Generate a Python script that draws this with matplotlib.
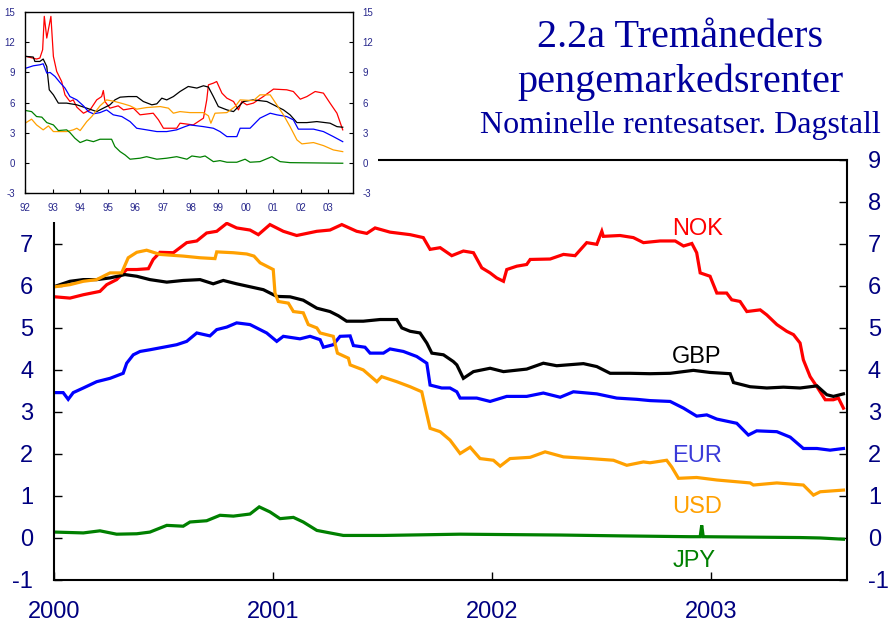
import numpy as np
import matplotlib
matplotlib.use("Agg")
import matplotlib.pyplot as plt
from matplotlib.patches import Rectangle

plt.rcParams["font.family"] = ["Liberation Sans", "DejaVu Sans"]
plt.rcParams["axes.unicode_minus"] = False

# main panel: years after 2000.0, values in percent
nok_t = [0.005, 0.073, 0.134, 0.210, 0.241, 0.286, 0.332, 0.378, 0.431, 0.453,
         0.484, 0.545, 0.606, 0.652, 0.697, 0.743, 0.789, 0.834, 0.895, 0.933,
         0.986, 1.047, 1.108, 1.200, 1.260, 1.314, 1.382, 1.428, 1.466, 1.534,
         1.626, 1.686, 1.717, 1.763, 1.816, 1.869, 1.915, 1.953, 1.991, 2.021,
         2.052, 2.067, 2.113, 2.158, 2.174, 2.265, 2.326, 2.379, 2.432, 2.478,
         2.501, 2.508, 2.584, 2.645, 2.691, 2.767, 2.836, 2.874, 2.912, 2.934,
         2.950, 2.995, 3.026, 3.071, 3.094, 3.132, 3.163, 3.224, 3.254, 3.300,
         3.345, 3.376, 3.406, 3.421, 3.452, 3.483, 3.521, 3.558, 3.581, 3.604]
nok_v = [5.74, 5.71, 5.79, 5.87, 6.03, 6.15, 6.39, 6.39, 6.41, 6.63,
         6.80, 6.79, 7.03, 7.07, 7.26, 7.30, 7.49, 7.38, 7.33, 7.22,
         7.46, 7.30, 7.20, 7.30, 7.33, 7.46, 7.30, 7.25, 7.38, 7.28,
         7.22, 7.15, 6.87, 6.91, 6.72, 6.83, 6.79, 6.43, 6.31, 6.19,
         6.11, 6.39, 6.47, 6.51, 6.63, 6.64, 6.75, 6.72, 7.03, 6.99,
         7.30, 7.18, 7.20, 7.15, 7.03, 7.07, 7.07, 6.95, 7.01, 6.79,
         6.31, 6.23, 5.83, 5.83, 5.67, 5.63, 5.39, 5.43, 5.31, 5.08,
         4.92, 4.84, 4.64, 4.24, 3.84, 3.60, 3.29, 3.29, 3.33, 3.09]

gbp_t = [0.005, 0.073, 0.134, 0.195, 0.256, 0.324, 0.378, 0.438, 0.515, 0.590,
         0.667, 0.727, 0.773, 0.834, 0.895, 0.956, 1.017, 1.078, 1.138, 1.200,
         1.260, 1.298, 1.336, 1.412, 1.489, 1.565, 1.588, 1.626, 1.671, 1.702,
         1.725, 1.778, 1.823, 1.839, 1.869, 1.915, 1.991, 2.052, 2.158, 2.234,
         2.295, 2.417, 2.478, 2.539, 2.630, 2.721, 2.813, 2.919, 2.995, 3.087,
         3.102, 3.178, 3.254, 3.330, 3.406, 3.483, 3.528, 3.558, 3.604]
gbp_v = [5.99, 6.11, 6.15, 6.15, 6.19, 6.27, 6.23, 6.15, 6.09, 6.13,
         6.15, 6.05, 6.13, 6.05, 5.98, 5.91, 5.75, 5.74, 5.66, 5.47,
         5.39, 5.29, 5.16, 5.16, 5.20, 5.20, 5.00, 4.92, 4.88, 4.64,
         4.40, 4.36, 4.20, 4.12, 3.80, 3.96, 4.04, 3.96, 4.02, 4.16,
         4.10, 4.15, 4.08, 3.92, 3.92, 3.91, 3.92, 3.99, 3.94, 3.91,
         3.70, 3.60, 3.57, 3.59, 3.57, 3.62, 3.41, 3.37, 3.43]

eur_t = [0.005, 0.042, 0.065, 0.088, 0.134, 0.195, 0.256, 0.316, 0.332, 0.362,
         0.393, 0.438, 0.499, 0.560, 0.606, 0.652, 0.712, 0.743, 0.789, 0.834,
         0.895, 0.971, 1.017, 1.047, 1.123, 1.169, 1.215, 1.230, 1.275, 1.306,
         1.352, 1.367, 1.420, 1.443, 1.504, 1.534, 1.595, 1.656, 1.702, 1.717,
         1.770, 1.808, 1.839, 1.854, 1.930, 1.991, 2.067, 2.158, 2.234, 2.311,
         2.371, 2.478, 2.569, 2.661, 2.721, 2.813, 2.874, 2.934, 2.980, 3.026,
         3.117, 3.170, 3.208, 3.300, 3.361, 3.421, 3.483, 3.543, 3.604]
eur_v = [3.46, 3.46, 3.30, 3.46, 3.57, 3.72, 3.80, 3.92, 4.16, 4.36,
         4.44, 4.48, 4.54, 4.60, 4.68, 4.88, 4.81, 4.96, 5.02, 5.12,
         5.08, 4.88, 4.68, 4.80, 4.74, 4.80, 4.72, 4.54, 4.60, 4.80,
         4.81, 4.58, 4.54, 4.40, 4.40, 4.50, 4.44, 4.32, 4.16, 3.64,
         3.57, 3.57, 3.48, 3.33, 3.33, 3.25, 3.37, 3.37, 3.45, 3.35,
         3.48, 3.43, 3.33, 3.30, 3.27, 3.25, 3.09, 2.90, 2.93, 2.83,
         2.73, 2.45, 2.55, 2.53, 2.40, 2.13, 2.13, 2.09, 2.13]

usd_t = [0.005, 0.073, 0.134, 0.195, 0.256, 0.309, 0.339, 0.378, 0.423, 0.484,
         0.590, 0.667, 0.735, 0.743, 0.819, 0.880, 0.913, 0.941, 1.001, 1.009,
         1.024, 1.070, 1.093, 1.138, 1.161, 1.200, 1.215, 1.275, 1.294, 1.344,
         1.352, 1.412, 1.474, 1.496, 1.565, 1.626, 1.679, 1.694, 1.717, 1.763,
         1.808, 1.854, 1.900, 1.945, 2.006, 2.037, 2.082, 2.174, 2.242, 2.326,
         2.447, 2.554, 2.615, 2.691, 2.721, 2.797, 2.820, 2.851, 2.934, 3.026,
         3.178, 3.193, 3.300, 3.421, 3.467, 3.498, 3.604]
usd_v = [5.98, 6.03, 6.11, 6.15, 6.31, 6.31, 6.67, 6.80, 6.85, 6.75,
         6.71, 6.67, 6.65, 6.81, 6.79, 6.76, 6.71, 6.55, 6.39, 5.83,
         5.63, 5.59, 5.39, 5.36, 5.08, 5.00, 4.88, 4.80, 4.40, 4.28,
         4.12, 4.00, 3.72, 3.84, 3.72, 3.60, 3.48, 3.13, 2.61, 2.53,
         2.33, 2.01, 2.16, 1.89, 1.85, 1.71, 1.89, 1.92, 2.05, 1.93,
         1.89, 1.85, 1.73, 1.81, 1.79, 1.85, 1.69, 1.42, 1.44, 1.38,
         1.31, 1.26, 1.31, 1.26, 1.02, 1.10, 1.14]

jpy_t = [0.005, 0.134, 0.210, 0.286, 0.378, 0.438, 0.515, 0.590, 0.621, 0.697,
         0.758, 0.819, 0.895, 0.937, 0.986, 1.032, 1.093, 1.138, 1.200, 1.260,
         1.321, 1.504, 1.854, 2.311, 2.584, 2.904, 2.950, 2.957, 2.964, 3.178,
         3.406, 3.498, 3.604]
jpy_v = [0.14, 0.12, 0.17, 0.09, 0.10, 0.14, 0.30, 0.28, 0.38, 0.41,
         0.54, 0.52, 0.57, 0.74, 0.62, 0.46, 0.49, 0.38, 0.18, 0.12,
         0.06, 0.06, 0.09, 0.07, 0.05, 0.03, 0.03, 0.30, 0.03, 0.02,
         0.01, 0.00, -0.03]

# small panel 1992-2003
i_nok_t = [1992.04, 1992.42, 1992.54, 1992.64, 1992.70, 1992.79, 1992.94, 1993.03, 1993.15, 1993.33,
           1993.45, 1993.63, 1993.75, 1993.88, 1994.12, 1994.36, 1994.60, 1994.78, 1994.84, 1994.90,
           1995.08, 1995.38, 1995.57, 1995.93, 1996.17, 1996.65, 1996.84, 1997.02, 1997.50, 1997.62,
           1998.10, 1998.47, 1998.59, 1998.65, 1998.83, 1998.95, 1999.14, 1999.32, 1999.56, 1999.74,
           1999.86, 2000.04, 2000.28, 2000.64, 2001.01, 2001.49, 2001.73, 2001.98, 2002.22, 2002.52,
           2002.82, 2003.06, 2003.31, 2003.52]
i_nok_v = [10.57, 10.31, 10.41, 11.23, 14.54, 12.39, 14.54, 10.57, 9.08, 8.08,
           6.76, 6.10, 6.26, 5.54, 4.94, 5.27, 6.26, 6.59, 7.19, 6.10,
           5.44, 5.67, 5.27, 5.44, 4.78, 4.94, 4.28, 3.45, 3.45, 3.95,
           3.78, 4.45, 6.26, 7.75, 7.92, 8.08, 6.93, 6.43, 6.10, 5.27,
           6.10, 5.77, 5.94, 6.59, 7.33, 7.26, 7.09, 6.33, 6.59, 7.09,
           6.93, 5.94, 4.94, 3.29]

i_gbp_t = [1992.04, 1992.30, 1992.36, 1992.54, 1992.66, 1992.79, 1992.88, 1993.03, 1993.21, 1993.51,
           1993.88, 1994.24, 1994.60, 1994.84, 1995.08, 1995.26, 1995.45, 1995.75, 1996.05, 1996.29,
           1996.60, 1996.78, 1996.96, 1997.14, 1997.38, 1997.62, 1997.92, 1998.23, 1998.47, 1998.65,
           1998.83, 1999.01, 1999.32, 1999.56, 1999.74, 1999.92, 2000.28, 2000.77, 2001.01, 2001.37,
           2001.61, 2001.86, 2002.22, 2002.58, 2003.06, 2003.31, 2003.52]
i_gbp_v = [10.57, 10.51, 10.07, 10.07, 10.31, 9.57, 7.26, 6.76, 5.94, 5.94,
           5.77, 5.44, 5.10, 5.44, 5.77, 6.26, 6.53, 6.59, 6.59, 6.10,
           5.77, 5.87, 6.43, 6.26, 6.59, 7.09, 7.59, 7.43, 7.66, 7.53,
           6.59, 5.60, 5.27, 5.10, 5.60, 6.10, 6.26, 6.10, 5.77, 5.27,
           4.78, 4.01, 4.01, 4.11, 3.95, 3.61, 3.55]

i_eur_t = [1992.04, 1992.30, 1992.54, 1992.66, 1992.79, 1992.91, 1993.09, 1993.27, 1993.45, 1993.63,
           1993.88, 1994.12, 1994.30, 1994.48, 1994.72, 1994.96, 1995.20, 1995.51, 1995.81, 1996.05,
           1996.41, 1996.78, 1997.14, 1997.50, 1997.80, 1997.98, 1998.47, 1998.83, 1999.07, 1999.32,
           1999.68, 1999.80, 2000.16, 2000.52, 2000.89, 2001.13, 2001.49, 2001.73, 2001.91, 2002.46,
           2002.82, 2003.18, 2003.52]
i_eur_v = [9.41, 9.64, 9.74, 9.84, 8.92, 8.98, 8.58, 7.98, 7.43, 6.59,
           6.26, 5.67, 5.10, 4.88, 5.00, 5.27, 4.78, 4.61, 4.11, 3.45,
           3.29, 3.12, 3.12, 3.29, 3.61, 3.78, 3.61, 3.45, 3.12, 2.62,
           2.62, 3.45, 3.45, 4.45, 4.94, 4.78, 4.61, 4.28, 3.36, 3.36,
           3.12, 2.62, 2.12]

i_usd_t = [1992.04, 1992.24, 1992.42, 1992.66, 1992.85, 1993.03, 1993.51, 1993.75, 1993.88, 1994.00,
           1994.24, 1994.42, 1994.72, 1994.96, 1995.26, 1995.57, 1995.81, 1996.05, 1996.41, 1996.90,
           1997.20, 1997.38, 1997.62, 1997.98, 1998.47, 1998.65, 1998.74, 1998.89, 1999.32, 1999.62,
           1999.80, 2000.28, 2000.52, 2000.89, 2001.13, 2001.37, 2001.61, 2001.86, 2002.04, 2002.46,
           2002.82, 2003.18, 2003.52]
i_usd_v = [4.01, 4.35, 3.78, 3.29, 3.68, 3.12, 3.12, 3.29, 3.45, 3.22,
           4.11, 4.61, 5.67, 6.26, 6.10, 5.87, 5.67, 5.34, 5.50, 5.60,
           5.44, 4.94, 5.10, 5.00, 5.00, 4.68, 3.95, 4.94, 5.00, 5.60,
           6.26, 6.19, 6.76, 6.76, 5.77, 4.78, 3.61, 2.29, 1.90, 2.03,
           1.73, 1.30, 1.13]

i_jpy_t = [1992.04, 1992.24, 1992.42, 1992.61, 1992.79, 1993.03, 1993.21, 1993.51, 1993.63, 1993.81,
           1994.00, 1994.24, 1994.48, 1994.72, 1995.14, 1995.26, 1995.45, 1995.63, 1995.81, 1996.17,
           1996.41, 1996.78, 1997.14, 1997.50, 1997.87, 1998.05, 1998.35, 1998.53, 1998.83, 1999.07,
           1999.32, 1999.68, 1999.98, 2000.16, 2000.52, 2000.95, 2001.25, 2001.61, 2003.52]
i_jpy_v = [5.20, 5.10, 4.61, 4.55, 4.01, 3.78, 3.22, 3.29, 3.02, 2.46,
           2.03, 2.29, 2.12, 2.36, 2.36, 1.63, 1.13, 0.80, 0.38, 0.48,
           0.63, 0.38, 0.48, 0.63, 0.38, 0.70, 0.58, 0.70, 0.14, 0.24,
           0.08, 0.08, 0.38, 0.08, 0.14, 0.63, 0.14, 0.04, -0.02]

names = ["NOK", "GBP", "EUR", "USD", "JPY"]
colors = ["#ff0000", "#000000", "#0000ff", "#ffa000", "#008000"]
label_colors = ["#ff0000", "#000000", "#3a3ad8", "#ffa000", "#008000"]
label_y = [7.36, 4.31, 1.95, 0.73, -0.56]

navy = "#000080"

fig = plt.figure(figsize=(8.89, 6.27), dpi=100)

# main chart
ax = fig.add_axes([0.0607, 0.075, 0.892, 0.670])
main = [(nok_t, nok_v), (gbp_t, gbp_v), (eur_t, eur_v), (usd_t, usd_v), (jpy_t, jpy_v)]
for (t, v), c in zip(main, colors):
    ax.plot(2000 + np.array(t), v, color=c, lw=2.3, solid_joinstyle="miter")
for name, c, y in zip(names, label_colors, label_y):
    ax.text(2002.822, y, name, color=c, fontsize=17, ha="left", va="center")

ax.set_xlim(2000, 2003.62)
ax.set_ylim(-1, 9)
ax.set_yticks(range(-1, 10))
ax.set_xticks([2000, 2001, 2002, 2003])
ax.set_xticklabels(["2000", "2001", "2002", "2003"])
ax.tick_params(direction="in", length=6, width=1, color="black",
               labelcolor=navy, labelsize=17, right=True, labelright=True)
ax.tick_params(axis="y", pad=15)
ax.tick_params(axis="x", pad=15)
for s in ax.spines.values():
    s.set_linewidth(1.5)
# the left labels 8 and 9 sit under the inset block
for val, tick in zip(range(-1, 10), ax.yaxis.get_major_ticks()):
    if val >= 8:
        tick.label1.set_visible(False)
        tick.tick1line.set_visible(False)

# white block hiding the upper left of the main frame
fig.patches.append(Rectangle((0, 0.646), 0.425, 0.354, transform=fig.transFigure,
                             facecolor="white", edgecolor="none", zorder=1))

# inset with the long history
ins = fig.add_axes([0.0281, 0.6917, 0.3686, 0.2896])
ins.set_zorder(2)
inset = [(i_nok_t, i_nok_v), (i_gbp_t, i_gbp_v), (i_eur_t, i_eur_v),
         (i_usd_t, i_usd_v), (i_jpy_t, i_jpy_v)]
for (t, v), c in zip(inset, colors):
    ins.plot(t, v, color=c, lw=0.9)
ins.set_xlim(1992, 2003.88)
ins.set_ylim(-3, 15)
ins.set_yticks(range(-3, 16, 3))
years = list(range(1992, 2004))
ins.set_xticks(years)
ins.set_xticklabels(["%02d" % (y % 100) for y in years])
ins.tick_params(direction="in", length=3, width=0.8, color="black",
                labelcolor="#28288c", labelsize=7, right=True, labelright=True, pad=7)
for s in ins.spines.values():
    s.set_linewidth(1.0)

# titles
title_col = "#00009c"
fig.text(0.765, 0.925, "2.2a Tremåneders", ha="center", va="baseline",
         family="Liberation Serif", size=29, color=title_col)
fig.text(0.765, 0.853, "pengemarkedsrenter", ha="center", va="baseline",
         family="Liberation Serif", size=29, color=title_col)
fig.text(0.765, 0.788, "Nominelle rentesatser. Dagstall", ha="center", va="baseline",
         family="Liberation Serif", size=23, color=title_col)

fig.savefig("out.png", dpi=100)
